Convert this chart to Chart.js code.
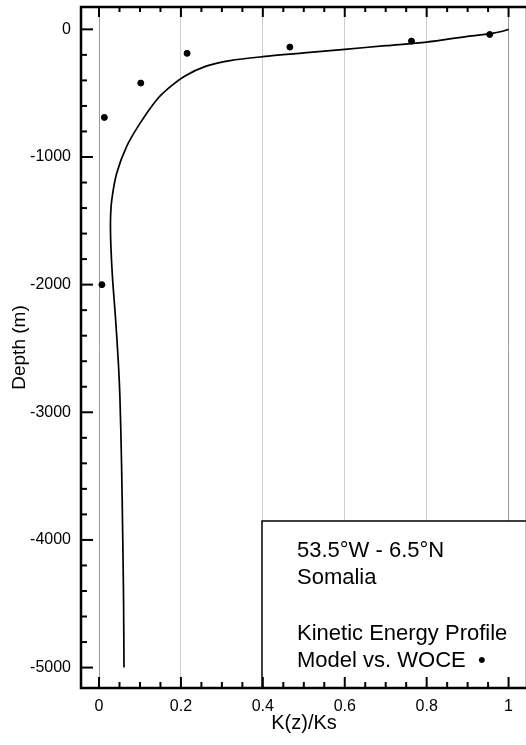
<!DOCTYPE html>
<html>
<head>
<meta charset="utf-8">
<script src="https://cdn.jsdelivr.net/npm/chart.js@4.4.1/dist/chart.umd.min.js"></script>
<style>
  body { margin: 0; overflow: hidden; background: #fff; }
  canvas { display: block; }
</style>
</head>
<body>
<canvas id="profile" width="540" height="745"></canvas>
<script>
// model curve: K(z)/Ks against depth
const modelK = [1.0, 0.985, 0.96, 0.9, 0.8, 0.7, 0.6, 0.5, 0.4, 0.32, 0.26, 0.21, 0.172, 0.14, 0.1, 0.067, 0.043, 0.031, 0.028, 0.029, 0.033, 0.04, 0.047, 0.051, 0.055, 0.058, 0.06, 0.061];
const modelDepth = [0, -15, -32, -55, -100, -128, -157, -185, -214, -245, -290, -365, -455, -555, -737, -920, -1129, -1340, -1500, -1700, -1950, -2250, -2600, -2880, -3400, -4000, -4500, -5000];

// WOCE observations
const woceK = [0.954, 0.763, 0.466, 0.215, 0.102, 0.013, 0.007];
const woceDepth = [-40, -92, -139, -188, -421, -690, -2000];

const xTicks = [0, 0.2, 0.4, 0.6, 0.8, 1];
const yTicks = [0, -1000, -2000, -3000, -4000, -5000];
const infoLines = ['53.5°W - 6.5°N', 'Somalia', '', 'Kinetic Energy Profile', 'Model vs. WOCE  •'];

const FONT = '"Liberation Sans", Arial, Helvetica, sans-serif';

const decor = {
  id: 'decor',
  afterDatasetsDraw(chart) {
    const ctx = chart.ctx;
    const ca = chart.chartArea;
    // info box
    ctx.save();
    ctx.fillStyle = '#fff';
    ctx.strokeStyle = '#000';
    ctx.lineWidth = 1.5;
    ctx.fillRect(262, 521, 300, ca.bottom - 521);
    ctx.strokeRect(262, 521, 300, ca.bottom - 521);
    ctx.fillStyle = '#000';
    ctx.font = '22px ' + FONT;
    ctx.textBaseline = 'alphabetic';
    const base = [557, 584, 611, 640, 667];
    infoLines.forEach((t, i) => { if (t) ctx.fillText(t, 297, base[i]); });
    ctx.restore();
  },
  afterDraw(chart) {
    const ctx = chart.ctx;
    const ca = chart.chartArea;
    const xs = chart.scales.x, ys = chart.scales.y;
    ctx.save();
    ctx.strokeStyle = '#000';
    const seg = (x1, y1, x2, y2, w) => {
      ctx.lineWidth = w;
      ctx.beginPath(); ctx.moveTo(x1, y1); ctx.lineTo(x2, y2); ctx.stroke();
    };
    // y ticks (inside, left side)
    for (let v = 0; v >= -5000; v -= 200) {
      const p = ys.getPixelForValue(v);
      const major = v % 1000 === 0;
      seg(ca.left, p, ca.left + (major ? 12 : 6), p, 2);
    }
    // x ticks (inside, top and bottom)
    for (let i = 0; i <= 20; i++) {
      const v = i * 0.05;
      const p = xs.getPixelForValue(v);
      const major = i % 4 === 0;
      seg(p, ca.top, p, ca.top + (major ? 10 : 5), 2);
      seg(p, ca.bottom, p, ca.bottom - (major ? 11 : 6), 2);
    }
    // frame
    ctx.lineWidth = 2.5;
    ctx.strokeRect(ca.left, ca.top, ca.right - ca.left, ca.bottom - ca.top);
    ctx.restore();
  }
};

new Chart(document.getElementById('profile'), {
  type: 'scatter',
  data: {
    datasets: [{
      type: 'line',
      label: 'Model',
      data: modelK.map((k, i) => ({ x: k, y: modelDepth[i] })),
      borderColor: '#000',
      borderWidth: 1.7,
      pointRadius: 0,
      tension: 0.3,
      fill: false
    }, {
      label: 'WOCE',
      data: woceK.map((k, i) => ({ x: k, y: woceDepth[i] })),
      backgroundColor: '#000',
      borderColor: '#000',
      pointRadius: 3,
      pointHoverRadius: 3
    }]
  },
  options: {
    responsive: false,
    animation: false,
    events: [],
    layout: { padding: { top: 7, right: 13, left: 0, bottom: 0 } },
    plugins: { legend: { display: false }, tooltip: { enabled: false } },
    scales: {
      x: {
        type: 'linear',
        min: -0.044,
        max: 1.045,
        afterBuildTicks: s => { s.ticks = xTicks.map(v => ({ value: v })); },
        afterFit: s => { s.height = 57; s.paddingLeft = 0; s.paddingRight = 0; },
        grid: {
          drawTicks: false,
          color: c => (c.tick && (c.tick.value === 0 || c.tick.value === 1)) ? '#9a9a9a' : '#cfcfcf',
          lineWidth: 1
        },
        border: { display: false },
        ticks: {
          padding: 9,
          color: '#000',
          font: { family: FONT, size: 16 },
          callback: v => String(v)
        },
        title: {
          display: true,
          text: 'K(z)/Ks',
          color: '#000',
          font: { family: FONT, size: 20 },
          padding: { top: 0, bottom: 10 }
        }
      },
      y: {
        type: 'linear',
        min: -5160,
        max: 175,
        afterBuildTicks: s => { s.ticks = yTicks.map(v => ({ value: v })); },
        afterFit: s => { s.width = 81; s.paddingTop = 0; s.paddingBottom = 0; },
        grid: { display: false, drawTicks: false },
        border: { display: false },
        ticks: {
          padding: 10,
          color: '#000',
          font: { family: FONT, size: 16 },
          callback: v => String(v)
        },
        title: {
          display: true,
          text: 'Depth (m)',
          color: '#000',
          font: { family: FONT, size: 19 },
          padding: { top: 8, bottom: 0 }
        }
      }
    }
  },
  plugins: [decor]
});
</script>
</body>
</html>
